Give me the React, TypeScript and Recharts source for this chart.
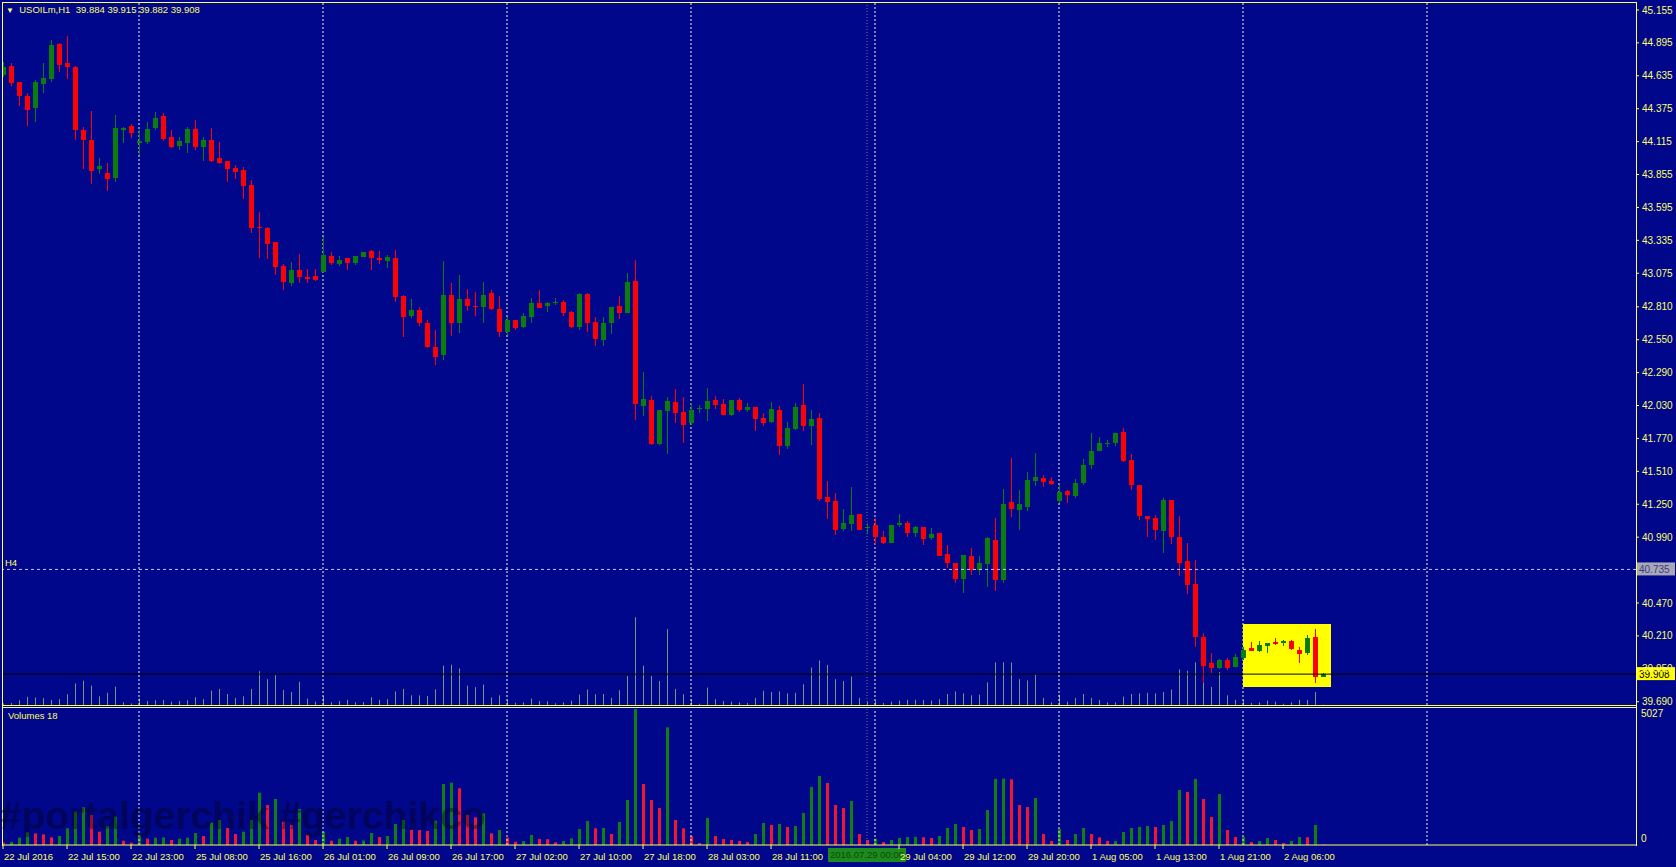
import React from "react";
import {
  ComposedChart,
  Bar,
  XAxis,
  YAxis,
  ReferenceLine,
  ReferenceArea,
} from "recharts";

// USOILm H1, 22 Jul 2016 07:00 .. 2 Aug 2016 (one entry per hourly bar)
const opens = [
  44.642, 44.713, 44.584, 44.476, 44.384, 44.571, 44.61, 44.886, 44.736, 44.705,
  44.207, 44.128, 43.896, 43.865, 43.831, 44.207, 44.239, 44.107, 44.115, 44.22,
  44.318, 44.149, 44.081, 44.107, 44.215, 44.075, 44.128, 43.989, 43.962, 43.904,
  43.891, 43.773, 43.443, 43.436, 43.325, 43.135, 42.996, 43.101, 43.046, 43.054,
  43.088, 43.212, 43.149, 43.193, 43.159, 43.206, 43.251, 43.196, 43.172, 43.193,
  42.896, 42.738, 42.785, 42.685, 42.496, 42.43, 42.904, 42.68, 42.872, 42.817,
  42.811, 42.922, 42.793, 42.614, 42.706, 42.648, 42.732, 42.843, 42.817, 42.838,
  42.851, 42.772, 42.653, 42.909, 42.693, 42.551, 42.685, 42.819, 42.764, 43.017,
  42.029, 42.074, 41.727, 41.99, 42.061, 41.977, 41.89, 42.0, 42.003, 42.074,
  42.042, 41.956, 42.074, 41.998, 42.021, 41.929, 41.903, 41.995, 41.711, 41.845,
  42.035, 41.871, 41.929, 41.311, 41.276, 41.053, 41.095, 41.174, 41.061, 41.087,
  40.995, 40.947, 41.087, 41.1, 41.026, 41.068, 40.981, 41.026, 40.855, 40.784,
  40.66, 40.842, 40.731, 40.776, 40.968, 40.652, 41.271, 41.205, 41.226, 41.434,
  41.455, 41.434, 41.276, 41.355, 41.316, 41.416, 41.561, 41.674, 41.727, 41.737,
  41.819, 41.6, 41.403, 41.158, 41.145, 41.039, 41.284, 40.994, 40.805, 40.621,
  40.205, 39.999, 39.96, 40.02, 39.968, 40.033, 40.112, 40.094, 40.133, 40.162,
  40.152, 40.17, 40.099, 40.078, 40.199, 39.884,
];
const highs = [
  44.747, 44.739, 44.589, 44.497, 44.602, 44.739, 44.918, 44.897, 44.952, 44.713,
  44.233, 44.36, 43.989, 43.949, 44.326, 44.233, 44.252, 44.207, 44.273, 44.352,
  44.339, 44.207, 44.149, 44.233, 44.286, 44.149, 44.22, 44.115, 43.962, 43.931,
  43.917, 43.812, 43.562, 43.443, 43.325, 43.146, 43.162, 43.225, 43.109, 43.109,
  43.364, 43.241, 43.212, 43.193, 43.212, 43.246, 43.259, 43.254, 43.22, 43.259,
  42.904, 42.872, 42.806, 42.706, 42.627, 43.175, 42.996, 43.062, 42.948, 42.93,
  43.009, 42.943, 42.896, 42.732, 42.706, 42.759, 42.877, 42.943, 42.851, 42.877,
  42.864, 42.777, 42.917, 42.917, 42.727, 42.727, 42.811, 42.896, 43.075, 43.18,
  42.298, 42.106, 41.995, 42.101, 42.159, 42.101, 42.053, 42.035, 42.166, 42.106,
  42.079, 42.074, 42.092, 42.053, 42.021, 41.969, 42.061, 42.027, 41.903, 42.053,
  42.2, 41.995, 41.969, 41.437, 41.337, 41.21, 41.389, 41.174, 41.1, 41.139,
  41.039, 41.087, 41.174, 41.118, 41.079, 41.074, 41.06, 41.026, 40.929, 40.784,
  40.85, 40.902, 40.842, 40.995, 41.139, 41.368, 41.613, 41.363, 41.508, 41.653,
  41.482, 41.463, 41.403, 41.363, 41.447, 41.605, 41.811, 41.779, 41.758, 41.816,
  41.85, 41.645, 41.403, 41.158, 41.166, 41.297, 41.284, 41.158, 40.947, 40.81,
  40.231, 40.073, 40.026, 40.033, 40.065, 40.126, 40.165, 40.173, 40.157, 40.191,
  40.178, 40.178, 40.126, 40.218, 40.262, 39.915,
];
const lows = [
  44.628, 44.555, 44.397, 44.233, 44.273, 44.505, 44.589, 44.668, 44.615, 44.128,
  43.904, 43.786, 43.86, 43.728, 43.799, 44.107, 44.141, 44.009, 44.102, 44.207,
  44.115, 44.062, 44.049, 44.028, 44.049, 43.957, 43.949, 43.944, 43.799, 43.817,
  43.667, 43.391, 43.201, 43.193, 43.062, 42.943, 42.97, 42.996, 42.996, 43.014,
  43.08, 43.135, 43.135, 43.101, 43.141, 43.206, 43.101, 43.154, 43.12, 42.851,
  42.569, 42.719, 42.654, 42.482, 42.351, 42.396, 42.58, 42.601, 42.772, 42.738,
  42.685, 42.785, 42.574, 42.588, 42.627, 42.64, 42.68, 42.798, 42.772, 42.825,
  42.738, 42.64, 42.622, 42.606, 42.501, 42.501, 42.601, 42.714, 42.759, 41.916,
  41.948, 41.719, 41.719, 41.653, 41.89, 41.737, 41.877, 41.974, 41.903, 42.0,
  41.956, 41.948, 41.982, 41.982, 41.832, 41.863, 41.895, 41.64, 41.687, 41.837,
  41.832, 41.719, 41.271, 41.139, 41.008, 41.039, 41.042, 41.047, 41.016, 40.929,
  40.937, 40.942, 41.074, 40.995, 40.995, 40.934, 40.968, 40.842, 40.75, 40.626,
  40.552, 40.692, 40.692, 40.6, 40.56, 40.626, 41.147, 41.047, 41.2, 41.389,
  41.389, 41.403, 41.258, 41.258, 41.297, 41.403, 41.526, 41.666, 41.705, 41.711,
  41.579, 41.363, 41.126, 40.995, 40.968, 40.863, 40.936, 40.684, 40.547, 40.126,
  39.836, 39.915, 39.947, 39.941, 39.963, 40.02, 40.091, 40.086, 40.078, 40.139,
  40.133, 40.099, 39.999, 40.06, 39.836, 39.882,
];
const closes = [
  44.707, 44.581, 44.478, 44.365, 44.584, 44.615, 44.879, 44.723, 44.707, 44.207,
  44.128, 43.886, 43.923, 43.82, 44.22, 44.22, 44.186, 44.12, 44.212, 44.299,
  44.136, 44.075, 44.12, 44.212, 44.075, 44.128, 43.962, 43.949, 43.896, 43.878,
  43.767, 43.43, 43.433, 43.307, 43.128, 43.004, 43.101, 43.049, 43.033, 43.022,
  43.22, 43.159, 43.18, 43.159, 43.212, 43.241, 43.199, 43.18, 43.206, 42.885,
  42.733, 42.785, 42.68, 42.49, 42.417, 42.904, 42.68, 42.872, 42.817, 42.809,
  42.904, 42.79, 42.609, 42.706, 42.64, 42.738, 42.843, 42.804, 42.843, 42.848,
  42.759, 42.653, 42.909, 42.685, 42.556, 42.685, 42.811, 42.764, 43.009, 42.04,
  42.079, 41.727, 41.995, 42.066, 41.969, 41.88, 41.995, 42.011, 42.066, 42.035,
  41.956, 42.074, 41.995, 42.019, 41.924, 41.895, 42.0, 41.711, 41.85, 42.021,
  41.871, 41.924, 41.292, 41.271, 41.047, 41.1, 41.166, 41.047, 41.074, 40.995,
  40.942, 41.087, 41.1, 41.026, 41.068, 40.976, 41.016, 40.842, 40.789, 40.657,
  40.85, 40.731, 40.784, 40.981, 40.652, 41.252, 41.21, 41.252, 41.442, 41.463,
  41.424, 41.41, 41.35, 41.324, 41.416, 41.561, 41.671, 41.732, 41.737, 41.811,
  41.592, 41.403, 41.16, 41.131, 41.047, 41.284, 40.994, 40.784, 40.613, 40.199,
  39.973, 39.954, 40.02, 39.954, 40.041, 40.099, 40.094, 40.139, 40.152, 40.147,
  40.17, 40.104, 40.065, 40.191, 39.883, 39.908,
];
const volumes = [
  90, 110, 270, 470, 430, 395, 285, 333, 617, 1233,
  1393, 1110, 493, 703, 1048, 160, 86, 370, 234, 271,
  280, 185, 234, 271, 444, 333, 826, 925, 629, 407,
  493, 925, 1936, 1480, 1702, 863, 740, 1332, 370, 185,
  493, 160, 234, 296, 160, 165, 444, 296, 333, 777,
  925, 555, 550, 518, 900, 2256, 2306, 2096, 1110, 1023,
  1171, 432, 555, 271, 123, 148, 370, 222, 215, 99,
  148, 247, 592, 888, 617, 630, 407, 851, 1665, 5027,
  2257, 1665, 1369, 4350, 925, 617, 333, 74, 999, 333,
  222, 185, 148, 111, 407, 814, 740, 777, 666, 703,
  1184, 2146, 2553, 2294, 1480, 1369, 1628, 407, 185, 234,
  111, 185, 259, 296, 300, 290, 259, 333, 629, 777,
  666, 555, 592, 1295, 2442, 2450, 2430, 1480, 1406, 1739,
  407, 148, 592, 185, 407, 629, 407, 284, 148, 150,
  481, 629, 666, 703, 666, 740, 888, 2035, 1961, 2442,
  1702, 1036, 1887, 555, 296, 300, 111, 148, 259, 185,
  74, 148, 296, 290, 740, 18,
];

const priceTicks = [
  45.155, 44.895, 44.635, 44.375, 44.115, 43.855, 43.595, 43.335, 43.075, 42.81,
  42.55, 42.29, 42.03, 41.77, 41.51, 41.25, 40.99, 40.47, 40.21, 39.95, 39.69,
];
const timeTicks = [0, 8, 16, 24, 32, 40, 48, 56, 64, 72, 80, 88, 96, 112, 120, 128, 136, 144, 152, 160];
const timeLabels = [
  "22 Jul 2016", "22 Jul 15:00", "22 Jul 23:00", "25 Jul 08:00", "25 Jul 16:00",
  "26 Jul 01:00", "26 Jul 09:00", "26 Jul 17:00", "27 Jul 02:00", "27 Jul 10:00",
  "27 Jul 18:00", "28 Jul 03:00", "28 Jul 11:00", "29 Jul 04:00", "29 Jul 12:00",
  "29 Jul 20:00", "1 Aug 05:00", "1 Aug 13:00", "1 Aug 21:00", "2 Aug 06:00",
];
const daySeparators = [17, 40, 63, 86, 109, 132, 155, 178];
const markerBar = 108;
const markerLabel = "2016.07.29 00:00";
const h4Level = 40.735;
const boxBars = [155, 166];
const boxPrices = [39.807, 40.304];

const BG = "#00078a";
const FG = "#ffff66";
const UP = "#0a7d0a";
const DOWN = "#ff0000";
const VOL_UP = "#0f800f";
const VOL_DOWN = "#f01830";
const GHOST = "#7c947c";
const GRID = "#f2f2d2";

const X_DOMAIN: [number, number] = [-0.125, 204.125];
const PRICE_DOMAIN: [number, number] = [39.664, 45.21];
const VOL_MAX = 5027;

const last = opens.length - 1;
const bid = closes[last];

const rows = opens.map((open, i) => ({
  i,
  open,
  high: highs[i],
  low: lows[i],
  close: closes[i],
  range: [lows[i], highs[i]],
  volume: volumes[i],
  volUp: i > 0 && volumes[i] > volumes[i - 1],
}));

function Candle(props: any) {
  const { x, y, width, height, payload } = props;
  if (x == null || payload == null) return null;
  const top = Math.min(y, y + height);
  const h = Math.abs(height);
  const span = payload.high - payload.low;
  const yOf = (p: number) => (span > 0 ? top + ((payload.high - p) / span) * h : top);
  const cx = Math.round(x + width / 2);
  const color = payload.close >= payload.open ? UP : DOWN;
  const bTop = Math.round(yOf(Math.max(payload.open, payload.close)));
  const bBot = Math.round(yOf(Math.min(payload.open, payload.close)));
  return (
    <g>
      <rect x={cx} y={Math.round(top)} width={1} height={Math.max(1, Math.round(h))} fill={color} />
      <rect x={cx - 2} y={bTop} width={5} height={Math.max(1, bBot - bTop)} fill={color} />
    </g>
  );
}

function GhostVolume(props: any) {
  const { x, y, width, height } = props;
  if (x == null) return null;
  const cx = Math.round(x + width / 2);
  return <rect x={cx} y={y} width={1} height={Math.max(0.5, height)} fill={GHOST} />;
}

function VolumeBar(props: any) {
  const { x, y, width, height, payload } = props;
  if (x == null) return null;
  const cx = Math.round(x + width / 2);
  return (
    <rect
      x={cx - 1}
      y={y}
      width={3}
      height={Math.max(0.5, height)}
      fill={payload.volUp ? VOL_UP : VOL_DOWN}
    />
  );
}

function TimeTick(props: any) {
  const { x, y, payload } = props;
  const idx = timeTicks.indexOf(payload.value);
  return (
    <text x={x + 1} y={y} dy="0.71em" fill={FG} fontSize={9.5}>
      {timeLabels[idx]}
    </text>
  );
}

function VolumeTick(props: any) {
  const { x, y, payload } = props;
  const dy = payload.value > 0 ? 8 : -3;
  return (
    <text x={x} y={y + dy} fill={FG} fontSize={10}>
      {payload.value}
    </text>
  );
}

function H4Label(props: any) {
  const vb = props.viewBox || {};
  const right = vb.x + vb.width;
  return (
    <g>
      <text x={vb.x + 3} y={vb.y - 3} fill={FG} fontSize={9.5}>H4</text>
      <rect x={right + 1} y={vb.y - 7} width={38} height={13} fill="#a8a8b8" />
      <text x={right + 3} y={vb.y + 3.5} fill="#3a3a80" fontSize={10}>
        {h4Level.toFixed(3)}
      </text>
    </g>
  );
}

function BidLabel(props: any) {
  const vb = props.viewBox || {};
  const right = vb.x + vb.width;
  return (
    <g>
      <rect x={right + 1} y={vb.y - 7} width={38} height={13} fill="#ffff00" />
      <text x={right + 3} y={vb.y + 3.5} fill="#000000" fontSize={10}>
        {bid.toFixed(3)}
      </text>
    </g>
  );
}

function MarkerLabel(props: any) {
  const vb = props.viewBox || {};
  const cx = vb.x;
  const bottom = vb.y + vb.height;
  return (
    <g>
      <rect x={cx - 39} y={bottom + 3} width={78} height={14} fill="#1c8a1c" />
      <text x={cx} y={bottom + 13} fill="#0c4a0c" fontSize={9.5} textAnchor="middle">
        {markerLabel}
      </text>
    </g>
  );
}

const W = 1676;
const MAIN_H = 708;
const VOL_TOP = 705;
const VOL_H = 162;

export default function App() {
  return (
    <div
      style={{
        position: "absolute",
        left: 0,
        top: 0,
        width: W,
        height: 867,
        background: BG,
        overflow: "hidden",
        fontFamily: '"Liberation Sans", Arial, sans-serif',
      }}
    >
      {/* ghost volumes + grid under the candles */}
      <div style={{ position: "absolute", left: 0, top: 0 }}>
        <ComposedChart width={W} height={MAIN_H} data={rows} margin={{ top: 3, right: 40, bottom: 3, left: 2 }}>
          <XAxis dataKey="i" type="number" domain={X_DOMAIN} allowDataOverflow hide />
          <YAxis yAxisId="vol" domain={[0, VOL_MAX * 8]} allowDataOverflow hide />
          {daySeparators.map((d) => (
            <ReferenceLine key={d} x={d} yAxisId="vol" stroke={GRID} strokeDasharray="2 2" />
          ))}
          <Bar yAxisId="vol" dataKey="volume" barSize={1} shape={GhostVolume} isAnimationActive={false} />
        </ComposedChart>
      </div>

      {/* candles */}
      <div style={{ position: "absolute", left: 0, top: 0 }}>
        <ComposedChart width={W} height={MAIN_H} data={rows} margin={{ top: 3, right: 0, bottom: 3, left: 2 }}>
          <XAxis dataKey="i" type="number" domain={X_DOMAIN} allowDataOverflow hide />
          <YAxis
            orientation="right"
            width={40}
            domain={PRICE_DOMAIN}
            allowDataOverflow
            ticks={priceTicks}
            interval={0}
            tickFormatter={(v: number) => v.toFixed(3)}
            tick={{ fill: FG, fontSize: 10 }}
            tickSize={3}
            tickMargin={3}
            tickLine={{ stroke: FG }}
            axisLine={false}
          />
          <ReferenceArea
            x1={boxBars[0]}
            x2={boxBars[1]}
            y1={boxPrices[0]}
            y2={boxPrices[1]}
            fill="#ffff00"
            fillOpacity={1}
            stroke="none"
          />
          <ReferenceLine x={markerBar} stroke="#6a7090" strokeDasharray="1 2" />
          <Bar dataKey="range" barSize={5} shape={Candle} isAnimationActive={false} />
          <ReferenceLine y={h4Level} stroke="#c8c8f0" strokeDasharray="3 3" label={H4Label} />
          <ReferenceLine y={bid} stroke="#000000" label={BidLabel} />
        </ComposedChart>
      </div>

      {/* volumes panel */}
      <div style={{ position: "absolute", left: 0, top: VOL_TOP }}>
        <ComposedChart width={W} height={VOL_H} data={rows} margin={{ top: 4, right: 0, bottom: 0, left: 2 }}>
          <XAxis
            dataKey="i"
            type="number"
            domain={X_DOMAIN}
            allowDataOverflow
            ticks={timeTicks}
            interval={0}
            tick={TimeTick}
            tickSize={4}
            tickMargin={4}
            tickLine={{ stroke: FG }}
            axisLine={{ stroke: FG }}
            height={22}
          />
          <YAxis
            orientation="right"
            width={40}
            domain={[0, VOL_MAX]}
            allowDataOverflow
            ticks={[0, VOL_MAX]}
            interval={0}
            tick={VolumeTick}
            tickSize={2}
            tickMargin={3}
            tickLine={false}
            axisLine={false}
          />
          {daySeparators.map((d) => (
            <ReferenceLine key={d} x={d} stroke={GRID} strokeDasharray="2 2" />
          ))}
          <Bar dataKey="volume" barSize={3} shape={VolumeBar} isAnimationActive={false} />
          <ReferenceLine x={markerBar} stroke="#6a7090" strokeDasharray="1 2" label={MarkerLabel} />
        </ComposedChart>
      </div>

      {/* window frame */}
      <div style={{ position: "absolute", left: 2, top: 2, width: 1635, height: 1, background: FG }} />
      <div style={{ position: "absolute", left: 2, top: 2, width: 1, height: 844, background: FG }} />
      <div style={{ position: "absolute", left: 2, top: 705, width: 1635, height: 1, background: FG }} />
      <div style={{ position: "absolute", left: 2, top: 707, width: 1635, height: 1, background: FG }} />
      <div style={{ position: "absolute", left: 1636, top: 2, width: 1, height: 844, background: FG }} />

      {/* titles */}
      <div
        style={{
          position: "absolute",
          left: 6,
          top: 4,
          color: FG,
          fontSize: 9.5,
          whiteSpace: "pre",
          lineHeight: "12px",
        }}
      >
        <span style={{ fontSize: 8 }}>▼</span>
        {`  USOILm,H1  ${opens[last].toFixed(3)} ${highs[last].toFixed(3)} ${lows[last].toFixed(3)} ${closes[last].toFixed(3)}`}
      </div>
      <div style={{ position: "absolute", left: 8, top: 710, color: FG, fontSize: 9.5, lineHeight: "12px" }}>
        {`Volumes ${volumes[last]}`}
      </div>

      {/* watermark */}
      <div
        style={{
          position: "absolute",
          left: 0,
          top: 794,
          fontSize: 39,
          fontWeight: "bold",
          color: "rgba(0,0,20,0.4)",
          whiteSpace: "pre",
          lineHeight: "44px",
          pointerEvents: "none",
        }}
      >
        #portalgerchik #gerchikco
      </div>
    </div>
  );
}
